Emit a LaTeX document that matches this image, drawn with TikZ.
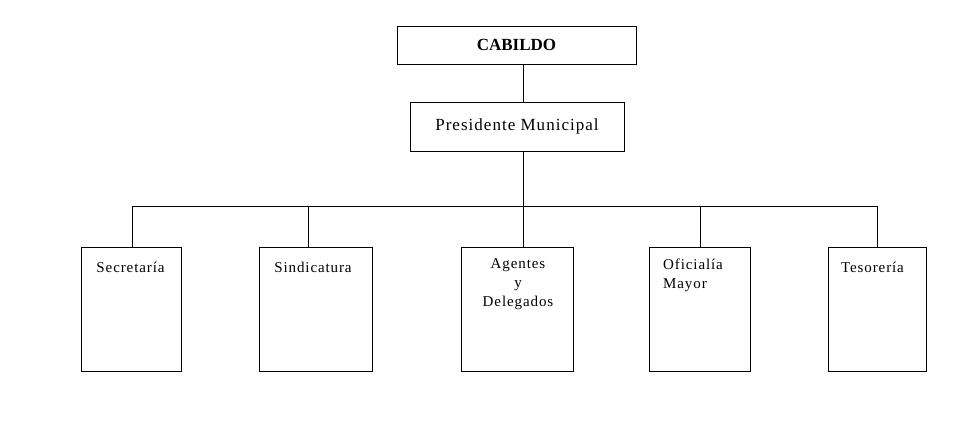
\documentclass[tikz,border=0pt]{standalone}
\usepackage{fontspec}
\setmainfont{Liberation Serif}
\newfontfamily\spacedfont[LetterSpace=6]{Liberation Serif}
\usepackage{tikz}
\usetikzlibrary{positioning, calc}
\tikzset{
  orgbox/.style={draw, line width=0.8pt, inner sep=0pt},
  topfont/.style={font=\spacedfont\fontsize{17}{20}\selectfont},
  unitfont/.style={font=\spacedfont\fontsize{15}{19}\selectfont, inner sep=0pt},
  link/.style={line width=0.8pt}
}

\begin{document}
\begin{tikzpicture}[x=1pt, y=-1pt]
      \useasboundingbox (0,0) rectangle (959,439);
      % Top boxes
      \node[orgbox, font=\rmfamily\bfseries\fontsize{17}{20}\selectfont, minimum width=239pt, minimum height=38pt] (cab) at (516.5,45) {CABILDO};
      \node[orgbox, topfont, minimum width=214pt, minimum height=49pt] (pres) at (517,126.5) {Presidente Municipal};
      % Unit boxes
      \node[orgbox, minimum width=100pt, minimum height=124pt] (sec) at (131,309) {};
      \node[orgbox, minimum width=113pt, minimum height=124pt] (sin) at (315.5,309) {};
      \node[orgbox, minimum width=112pt, minimum height=124pt] (age) at (517,309) {};
      \node[orgbox, minimum width=101pt, minimum height=124pt] (ofi) at (699.5,309) {};
      \node[orgbox, minimum width=98pt, minimum height=124pt] (tes) at (877,309) {};
      % Unit labels
      \node[unitfont] (sectxt) at (130.5,267) {Secretaría};
      \node[unitfont] (sintxt) at (313,267) {Sindicatura};
      \node[unitfont, align=center] (agetxt) at (518,284) {Agentes\\y\\Delegados};
      \node[unitfont, align=left, anchor=west] (ofitxt) at (663,275) {Oficialía\\Mayor};
      \node[unitfont] (testxt) at (872.5,267) {Tesorería};
      % Trunk and bar
      \coordinate (trunk) at (523,206);
      \coordinate (barL) at (132,206);
      \coordinate (barR) at (877,206);
      \coordinate (dsin) at (308,206);
      \coordinate (dofi) at (700,206);
      \draw[link] (cab.south -| trunk) -- (pres.north -| trunk);
      \draw[link] (pres.south -| trunk) -- (age.north -| trunk);
      \draw[link] (barL) -- (barR);
      \draw[link] (barL) -- (barL |- sec.north);
      \draw[link] (dsin) -- (dsin |- sin.north);
      \draw[link] (dofi) -- (dofi |- ofi.north);
      \draw[link] (barR) -- (barR |- tes.north);
\end{tikzpicture}
\end{document}
